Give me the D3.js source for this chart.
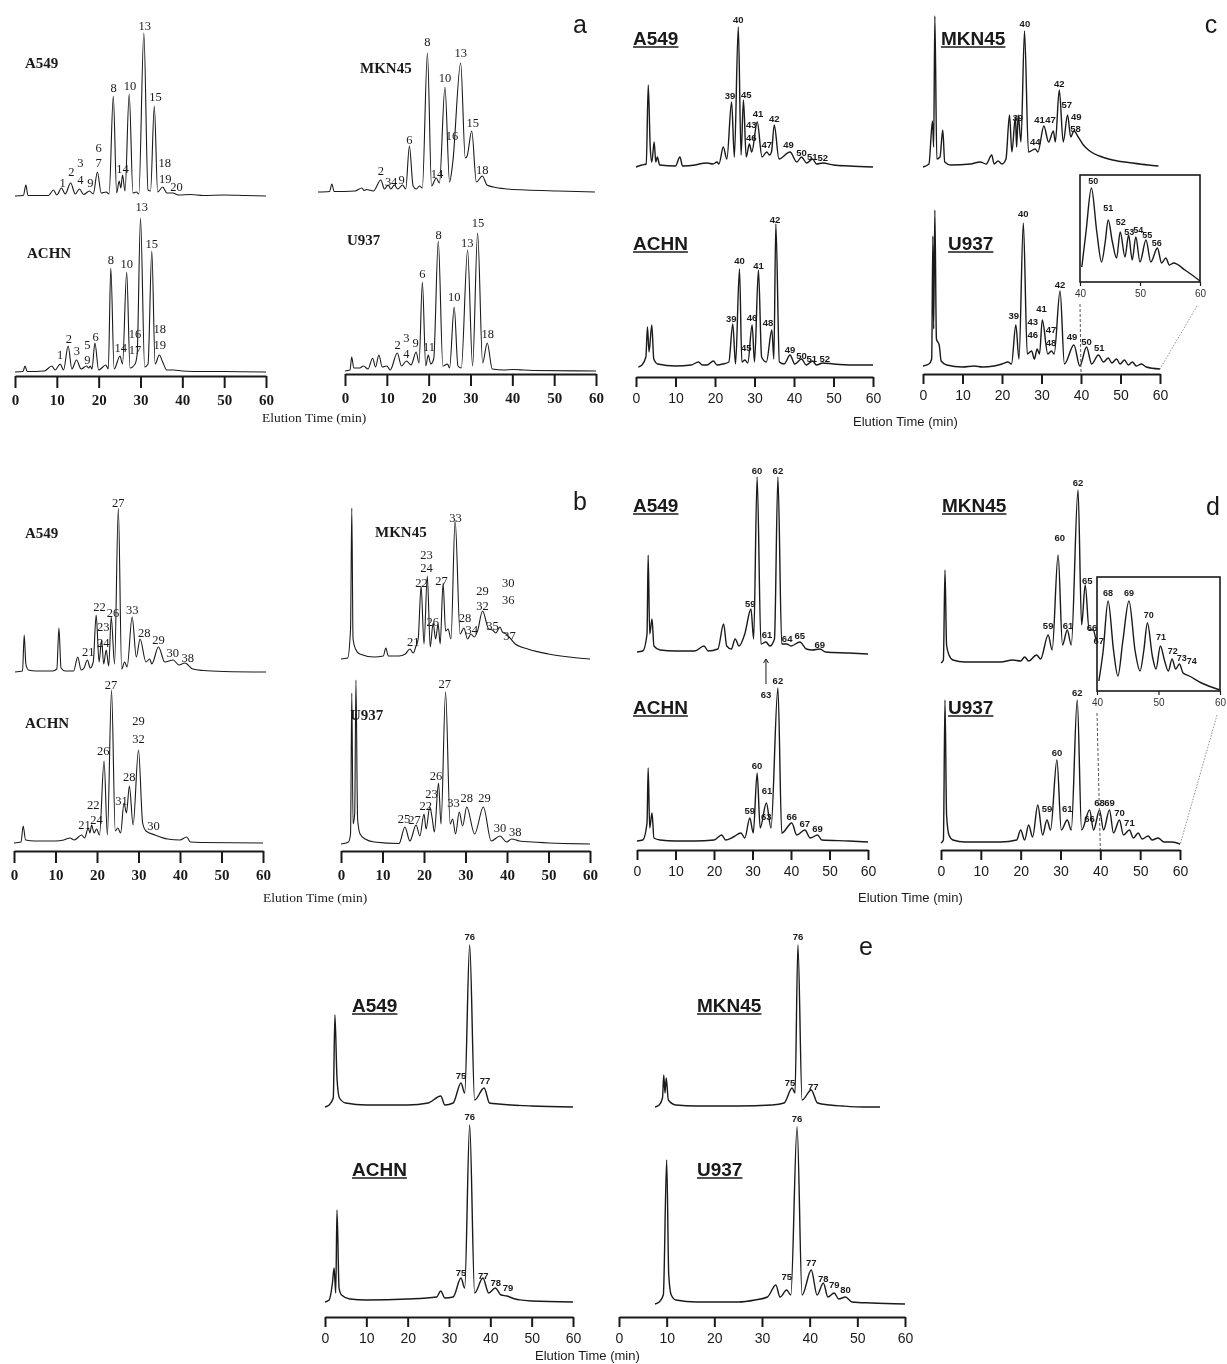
<!DOCTYPE html>
<html><head><meta charset="utf-8">
<script src="https://cdn.jsdelivr.net/npm/d3@7"></script>
<style>body{margin:0;background:#fff} svg{will-change:transform}</style>
</head><body>
<svg id="c" width="1227" height="1364"></svg>
<script>
const tickLabels = [0,10,20,30,40,50,60];
const insetTicks = [40,50,60];
const axisTitle = "Elution Time (min)";
const groupLetters = ["a","b","c","d","e"];

// ---- group a ----
const a_A549 = [[0,0],[2,0.5],[2.6,11],[3.1,0.5],[8,0.5],[9.2,6],[10,1],[11.1,8],[12,2],[13.3,13],[14.4,2],[15.4,7],[16.4,1.5],[17.8,5],[18.7,2],[19.7,24],[20.6,3],[21.8,4],[22.5,2],[23.5,100],[24.3,3],[24.9,15],[25.3,8],[25.7,21],[26.3,5],[27.3,102],[28.2,3],[29,4],[29.6,2],[30.8,163],[31.8,6],[32.4,5],[33.3,90],[34.1,4],[35.3,9],[36.3,3],[37.8,3],[39,1],[42,1.5],[45,0.5],[50,1],[55,0.5],[60,0]];
const a_A549_lab = [["1",11.4,13],["2",13.5,24],["3",15.6,33],["4",15.6,16],["9",18,13],["6",20,48],["7",20,33],["8",23.6,108],["10",27.5,110],["13",31,170],["14",25.7,27],["15",33.6,99],["18",35.8,33],["19",35.9,17],["20",38.6,9]];
const a_MKN45 = [[0,0],[2.5,0.5],[3,8],[3.5,0.5],[8,1],[9.5,4],[10,1.5],[10.5,2.5],[12,1],[13.6,12],[14.4,3],[15.2,7],[15.8,3],[16.5,7],[17.3,3],[18.3,7],[19,3],[19.8,46],[20.6,6],[21.3,3],[22,6],[22.6,4],[23.7,139],[24.6,6],[25.6,14],[26.3,9],[27.5,105],[28.5,10],[29.2,30],[30.9,129],[31.9,34],[32.3,36],[33.3,61],[34.3,10],[35.6,16],[36.6,7],[38,5],[41,3],[45,2],[52,1],[60,0]];
const a_MKN45_lab = [["2",13.6,21],["3",15.2,10],["4",16.5,10],["9",18.1,12],["6",19.8,52],["8",23.7,150],["14",25.8,18],["10",27.5,114],["16",29.0,56],["13",30.9,139],["15",33.5,69],["18",35.6,22]];
const a_ACHN = [[0,0],[1.9,0.5],[2.4,6],[2.9,0.5],[7,1],[8.8,6],[9.6,2],[10.8,8],[11.6,2],[12.7,26],[13.6,3],[14.7,12],[15.8,3],[17.1,6],[17.6,4],[18.0,6],[18.4,3],[19.1,29],[20,2],[21.7,7],[22.3,3],[22.9,104],[23.7,3],[25.1,16],[25.7,8],[26.7,100],[27.5,4],[28.7,8],[29.2,18],[30.0,154],[31.0,5],[31.8,8],[32.7,121],[33.5,8],[34.5,17],[35.3,10],[36.3,2],[38,2],[40,1],[45,0.5],[50,0.5],[60,0]];
const a_ACHN_lab = [["1",10.8,17],["2",12.9,33],["3",14.8,21],["5",17.3,27],["9",17.3,12],["6",19.3,35],["8",22.9,112],["10",26.7,108],["13",30.3,165],["14",25.3,24],["16",28.7,38],["17",28.7,22],["15",32.7,128],["18",34.6,43],["19",34.6,27]];
const a_U937 = [[0,0],[1.2,1],[1.6,14],[2.1,3],[3.5,3],[4.4,5],[5.5,2],[6.6,12.7],[7.3,4],[8.1,16],[8.9,4],[10,5],[10.8,1],[12.5,18],[13.5,5],[14.7,10],[15.8,6],[17,19],[17.7,8],[18.5,89],[19.3,5],[19.9,16],[20.5,7],[21.2,12],[22.3,130],[23.4,5],[24.5,7],[25,3],[26.1,64],[27,5],[27.8,3],[29.3,121],[30.5,5],[31.7,138],[32.9,8],[34,28],[35.2,2],[38,1],[40,1.5],[45,0.5],[60,0]];
const a_U937_lab = [["2",12.6,26],["3",14.7,33],["4",14.7,17],["9",16.9,28],["6",18.5,97],["11",20.1,24],["8",22.4,136],["10",26.1,74],["13",29.2,128],["15",31.8,148],["18",34.1,37]];

// ---- group b ----
const b_A549 = [[0,0],[1.8,1],[2.2,37],[2.6,8],[3.2,2],[5,1],[9,1],[10,3],[10.5,44],[11,4],[12,1],[14,1],[15,15],[15.8,2],[16.5,4],[17.3,12],[18,4],[18.7,10],[19.4,57],[20.1,10],[20.7,32],[21.2,8],[21.8,22],[22.4,6],[23,55],[23.8,8],[24.7,164],[25.5,3],[26.2,10],[26.8,5],[28,55],[29,15],[29.9,33],[31.3,10],[32.2,13],[32.7,8],[34.3,25],[35.8,10],[37.8,12],[39.2,7],[40.6,9],[42.5,3],[45,1.5],[50,0.5],[60,0]];
const b_A549_lab = [["21",17.5,20],["22",20.2,65],["23",21.1,45],["24",21.1,29],["26",23.4,59],["27",24.7,169],["33",28,62],["28",30.9,39],["29",34.3,32],["30",37.7,19],["38",41.3,14]];
const b_MKN45 = [[0,0],[1.6,1],[2.3,30],[2.6,151],[2.9,20],[3.5,10],[4.5,5],[8,2],[10.2,3],[10.8,11],[11.4,3],[14,3],[15.5,5],[16.6,10],[17.4,6],[18,12],[18.6,20],[19.3,73],[20,15],[20.8,83],[21.5,12],[22.2,36],[22.8,20],[23.4,35],[23.9,15],[24.6,76],[25.2,28],[25.8,30],[26.5,20],[27.5,139],[28.7,25],[29.6,31],[30.5,20],[31.3,25],[32.1,22],[32.9,28],[34.1,48],[35.6,30],[36.5,29],[37.3,26],[38.3,32],[38.9,27],[39.8,25],[42,15],[45,10],[50,5],[55,2],[60,0]];
const b_MKN45_lab = [["21",17.4,17],["22",19.4,76],["23",20.6,104],["24",20.6,91],["26",22.1,37],["27",24.2,78],["33",27.6,141],["28",29.9,41],["34",31.5,29],["29",34.1,68],["32",34.1,53],["35",36.5,33],["30",40.3,76],["36",40.3,59],["37",40.6,23]];
const b_ACHN = [[0,0],[1.7,1],[2.2,17],[2.8,3],[5,2],[10,2],[12,3],[13.5,5],[14.5,3],[16.3,8],[17,5],[17.9,15],[18.3,10],[18.7,18],[19.3,10],[19.9,14],[20.6,8],[21.7,82],[22.5,8],[23.5,153],[24.4,12],[25,15],[25.7,10],[26.5,40],[27.1,30],[27.8,57],[28.7,18],[30,93],[31,20],[31.8,12],[34,8],[37,4],[40,3],[41.6,6],[42.5,1],[45,0.5],[60,0]];
const b_ACHN_lab = [["21",17,18],["22",19.1,38],["24",19.9,23],["26",21.5,92],["27",23.4,158],["31",25.9,42],["28",27.8,66],["29",30,122],["32",30,104],["30",33.6,17]];
const b_U937 = [[0,0],[1.8,2],[2.3,10],[2.6,151],[2.9,20],[3.3,30],[3.6,164],[4,25],[4.6,10],[5.8,5],[8,2],[14,0.5],[15.4,17],[16.6,3],[18.1,19],[19,8],[20,30],[20.5,15],[21.4,37],[22,25],[22.5,12],[23.5,61],[24.1,20],[25.2,152],[26.3,20],[26.9,25],[27.6,10],[28.5,32],[29.3,18],[30.3,37],[32.2,10],[34.3,37],[36.2,3],[38.3,8],[39.9,2],[41.1,5],[43,3],[46,2],[60,0]];
const b_U937_lab = [["25",15.2,25],["27",17.7,24],["22",20.4,38],["23",21.8,50],["26",22.9,68],["27",25,160],["33",27.1,41],["28",30.3,46],["29",34.6,46],["30",38.3,16],["38",42,12]];

// ---- group c ----
const c_A549 = [[0,0],[1.5,2],[2.6,3],[3.1,82],[3.6,20],[4.0,5],[4.6,25],[5.0,5],[5.4,10],[6,2],[10,1],[11.1,10],[11.8,1],[15,2],[16,3],[18,4],[19.5,3],[20.5,5],[21,3],[22.1,20],[23,8],[24.2,65],[24.9,10],[25.9,140],[26.6,12],[27.2,67],[27.9,10],[28.7,23],[29.3,15],[30.7,45],[31.9,10],[33.1,15],[33.8,12],[34.3,15],[35,42],[36.2,8],[39,15],[40.7,5],[41.9,10],[43.2,4],[44.7,8],[45.7,3],[47.3,4],[50,2],[54,1],[60,0]];
const c_A549_lab = [["39",23.8,72],["40",25.9,148],["45",27.9,73],["43",29.2,43],["46",29.2,30],["41",30.9,54],["47",33.1,23],["42",35,49],["49",38.6,23],["50",41.9,15],["51",44.6,11],["52",47.3,10]];
const c_MKN45 = [[0,0],[1.5,3],[2.4,46],[2.7,20],[3.0,151],[3.5,8],[4.3,10],[5,37],[5.5,5],[7,2],[12,3],[14.5,5],[16,3],[17.4,12],[18,3],[19,6],[20,3],[21,8],[21.9,52],[22.5,15],[23.4,50],[23.7,20],[24.1,52],[24.8,25],[25.7,136],[26.7,15],[28.4,18],[29.1,15],[30.6,41],[31.8,25],[33,36],[33.5,25],[34.5,77],[35.5,25],[36.6,52],[37.4,30],[38.2,36],[39.3,30],[40.6,22],[42.2,16],[44.7,11],[48,7],[53,4],[57,2],[59.6,1]];
const c_MKN45_lab = [["39",24,50],["40",25.8,144],["44",28.4,26],["41",29.5,48],["47",32.3,48],["42",34.5,84],["57",36.4,63],["49",38.8,51],["58",38.6,39]];
const c_ACHN = [[0.6,0],[1.5,2],[2.5,10],[2.9,40],[3.3,15],[4.0,42],[4.5,8],[5.5,3],[10,1],[14,2],[15.8,5],[16.8,2],[18,2],[19.6,6],[20.5,2],[22,3],[23.5,5],[24.5,43],[25.2,3],[26.2,98],[26.8,5],[27.6,7],[28.3,4],[29.4,42],[30,5],[31,97],[31.8,10],[33,5],[34.4,37],[34.9,8],[35.4,143],[36.3,5],[37.5,3],[39,12],[40.2,3],[41.9,8],[43.1,2],[44.7,6],[45.7,2],[47.3,4],[50,3],[55,2],[60,2]];
const c_ACHN_lab = [["39",24.1,49],["40",26.2,107],["45",27.9,20],["46",29.4,50],["41",31,102],["48",33.4,45],["42",35.2,148],["49",39,18],["50",41.9,12],["51",44.5,9],["52",47.8,9]];
const c_U937 = [[0,3],[1.5,5],[2.2,10],[2.5,133],[2.7,40],[3.0,159],[3.4,30],[4.1,24],[4.6,8],[6,4],[10,2],[13,3],[15,2],[18,3],[20,5],[21.5,7],[22.4,5],[23.5,44],[24.3,10],[25.4,146],[26.4,15],[27.5,18],[28.2,10],[28.9,20],[29.5,15],[30.2,49],[31.6,15],[32.5,18],[33.2,15],[34.7,78],[35.8,5],[38.2,24],[39.7,3],[41.4,22],[42.7,5],[44.4,14],[45.7,7],[46.9,11],[47.8,6],[49,10],[49.9,5],[51,9],[52,4],[53,7],[54,3],[55.3,5],[56.5,2],[60,0]];
const c_U937_lab = [["39",23,54],["40",25.4,156],["43",27.8,48],["46",27.8,35],["41",30,61],["47",32.4,40],["48",32.4,27],["42",34.7,85],["49",37.7,33],["50",41.4,28],["51",44.6,22]];
const c_inset = [[40.3,15],[41.0,50],[41.9,94],[42.8,50],[43.6,20],[44.2,40],[44.7,62],[45.4,40],[46.1,24],[46.7,50],[47.5,25],[48.1,47],[48.7,22],[49.3,45],[50,20],[51,42],[51.8,20],[52.9,34],[53.6,19],[54.3,24],[54.9,17],[55.6,19],[57.5,12],[60,1]];
const c_inset_lab = [["50",42.2,101],["51",44.7,74],["52",46.8,60],["53",48.2,50],["54",49.7,52],["55",51.2,47],["56",52.8,39]];

// ---- group d ----
const d_A549 = [[0,2],[1.5,3],[2.6,20],[2.9,99],[3.3,20],[3.9,35],[4.4,8],[6,4],[10,3],[15,3],[17.4,8],[18.5,3],[21,5],[22.5,30],[23.3,8],[24.5,5],[25.5,15],[26.5,8],[28,20],[29.6,45],[30.3,15],[31.2,177],[32.2,10],[33.5,12],[34.5,8],[35.7,15],[36.6,177],[37.6,10],[38.9,10],[40,8],[42.3,12],[44,5],[45.5,4],[47.5,5],[49,2],[55,1],[60,0]];
const d_A549_lab = [["59",29.4,51],["60",31.2,184],["61",33.8,20],["62",36.6,184],["64",39,16],["65",42.3,19],["69",47.5,10]];
const d_A549_arrow = [["63",33.5,-40,-30,-5]];
const d_MKN45 = [[0,2],[0.6,5],[1,95],[1.4,20],[2,10],[3,5],[6,3],[15,3],[18,5],[20,4],[21,8],[22,4],[24,10],[25,6],[26.9,30],[27.9,15],[29.4,110],[30.5,20],[31.7,35],[32.7,20],[34.4,175],[35.3,40],[36.2,80],[37.2,35],[38.2,35],[39,25],[40,22],[42,15],[45,10],[50,5],[55,3],[60,1]];
const d_MKN45_lab = [["59",26.9,40],["60",29.8,128],["61",31.9,40],["62",34.4,183],["65",36.7,85],["66",37.9,38],["67",39.6,25]];
const d_ACHN = [[0,2],[1.5,3],[2.6,20],[2.9,75],[3.3,15],[3.9,30],[4.4,5],[6,3],[10,2],[15,2],[20,3],[22,8],[23,3],[25,6],[27,10],[28,5],[29.3,25],[30.2,10],[31.2,70],[32,15],[33.6,40],[34.8,15],[36.6,155],[37.6,10],[40.2,20],[41.5,8],[43.6,13],[45,5],[46.9,8],[48,3],[55,2],[60,1]];
const d_ACHN_lab = [["59",29.3,33],["60",31.2,78],["61",33.8,53],["62",36.6,163],["63",33.6,27],["66",40.2,27],["67",43.6,20],["69",46.9,15]];
const d_U937 = [[0,2],[0.6,5],[1,145],[1.4,30],[2,10],[3,5],[6,3],[15,3],[19,5],[20,15],[21,5],[22,20],[23,8],[24.3,40],[25.5,10],[26.6,25],[27.5,15],[29.1,85],[30.2,15],[31.7,25],[32.7,15],[34.2,145],[35.3,15],[37.3,35],[38.3,15],[39.8,35],[40.8,15],[42.3,35],[43.3,12],[44.8,25],[45.8,10],[47.3,15],[48.3,7],[49.5,12],[50.5,6],[52,9],[53,5],[54.5,7],[56,3],[58,3],[60,1]];
const d_U937_lab = [["59",26.6,37],["60",29.1,93],["61",31.7,37],["62",34.2,153],["66",37.3,27],["68",39.8,43],["69",42.3,43],["70",44.8,33],["71",47.3,23]];
const d_inset = [[40.3,10],[41,40],[41.8,90],[42.7,40],[43.4,15],[44.2,50],[45.2,90],[46.2,40],[47,20],[47.6,40],[48.2,68],[49,35],[49.6,22],[50.3,45],[51,30],[51.6,20],[52.2,32],[52.8,22],[53.4,27],[54,18],[55,15],[57,8],[60,1]];
const d_inset_lab = [["68",41.8,98],["69",45.2,98],["70",48.4,76],["71",50.4,54],["72",52.3,40],["73",53.8,33],["74",55.4,30]];

// ---- group e ----
const e_A549 = [[0,1],[1,3],[2,10],[2.4,93],[2.9,30],[3.5,10],[5,5],[10,3],[20,3],[25,5],[28,12],[29,3],[31,5],[32.9,25],[33.8,15],[35,163],[36.2,8],[38.5,20],[39.8,5],[42,4],[45,3],[50,2],[60,1]];
const e_A549_lab = [["75",32.9,33],["76",35,172],["77",38.7,28]];
const e_MKN45 = [[0,1],[1,3],[1.8,10],[2.1,33],[2.4,15],[2.7,30],[3.2,8],[5,3],[10,2],[20,2],[28,3],[31,5],[32.9,20],[33.6,15],[34.3,163],[35.3,8],[37.5,18],[39,5],[42,3],[45,2],[50,1],[54,1]];
const e_MKN45_lab = [["75",32.4,26],["76",34.3,172],["77",38,22]];
const e_ACHN = [[0,1],[1,3],[1.8,20],[2.2,35],[2.6,10],[2.9,93],[3.4,15],[4,8],[6,4],[10,3],[20,4],[27,6],[28,12],[29,5],[31,6],[32.9,25],[33.8,15],[35,178],[36.2,10],[38.2,25],[39.6,10],[41.2,15],[42.6,8],[44,7],[46,4],[50,2],[60,1]];
const e_ACHN_lab = [["75",32.9,31],["76",35,187],["77",38.3,28],["78",41.3,21],["79",44.3,16]];
const e_U937 = [[0,1],[1,3],[2,10],[2.8,145],[3.3,30],[3.9,10],[5,5],[10,3],[20,3],[24,5],[27,8],[29,20],[30,8],[31.6,15],[32.6,10],[34.1,178],[35.3,10],[37.5,35],[38.9,10],[40.4,22],[41.5,8],[43,12],[44.1,6],[45.7,8],[47.3,3],[52,2],[60,1]];
const e_U937_lab = [["75",31.6,29],["76",34.1,187],["77",37.5,43],["78",40.4,27],["79",43,21],["80",45.7,16]];

const svg = d3.select("#c");
const root = svg.append("g").attr("opacity",0.999);
const gTrace = root.append("g");
const gInset = root.append("g");
const gText = root.append("g");
const INK = "#1a1a1a";

const panels = [
  {d:a_A549, l:a_A549_lab, name:"A549", st:"serif", xr:[15,266], base:196, nm:[25,63]},
  {d:a_MKN45, l:a_MKN45_lab, name:"MKN45", st:"serif", xr:[318,595], base:192, nm:[360,68]},
  {d:a_ACHN, l:a_ACHN_lab, name:"ACHN", st:"serif", xr:[15,266], base:372, nm:[27,253], axis:376},
  {d:a_U937, l:a_U937_lab, name:"U937", st:"serif", xr:[345,596], base:371, nm:[347,240], axis:374},
  {d:b_A549, l:b_A549_lab, name:"A549", st:"serif", xr:[15,266], base:672, nm:[25,533]},
  {d:b_MKN45, l:b_MKN45_lab, name:"MKN45", st:"serif", xr:[341,590], base:659, nm:[375,532]},
  {d:b_ACHN, l:b_ACHN_lab, name:"ACHN", st:"serif", xr:[14,263], base:843, nm:[25,723], axis:851},
  {d:b_U937, l:b_U937_lab, name:"U937", st:"serif", xr:[341,590], base:844, nm:[350,715], axis:851},
  {d:c_A549, l:c_A549_lab, name:"A549", st:"sans", xr:[636,873], base:167, nm:[633,38]},
  {d:c_MKN45, l:c_MKN45_lab, name:"MKN45", st:"sans", xr:[923,1160], base:167, nm:[941,38]},
  {d:c_ACHN, l:c_ACHN_lab, name:"ACHN", st:"sans", xr:[636,873], base:367, nm:[633,243], axis:377},
  {d:c_U937, l:c_U937_lab, name:"U937", st:"sans", xr:[923,1160], base:369, nm:[948,243], axis:374},
  {d:d_A549, l:d_A549_lab, name:"A549", st:"sans", xr:[637,868], base:654, nm:[633,505], arrows:d_A549_arrow},
  {d:d_MKN45, l:d_MKN45_lab, name:"MKN45", st:"sans", xr:[941,1180], base:665, nm:[942,505]},
  {d:d_ACHN, l:d_ACHN_lab, name:"ACHN", st:"sans", xr:[637,868], base:843, nm:[633,707], axis:850},
  {d:d_U937, l:d_U937_lab, name:"U937", st:"sans", xr:[941,1180], base:845, nm:[948,707], axis:850},
  {d:e_A549, l:e_A549_lab, name:"A549", st:"sans", xr:[325,573], base:1108, nm:[352,1005]},
  {d:e_MKN45, l:e_MKN45_lab, name:"MKN45", st:"sans", xr:[655,905], base:1108, nm:[697,1005]},
  {d:e_ACHN, l:e_ACHN_lab, name:"ACHN", st:"sans", xr:[325,573], base:1303, nm:[352,1169], axis:1317, axr:[325,573]},
  {d:e_U937, l:e_U937_lab, name:"U937", st:"sans", xr:[655,905], base:1305, nm:[697,1169], axis:1317, axr:[619,905]}
];

const FONT = {serif:"'Liberation Serif','Times New Roman',serif", sans:"'Liberation Sans',Arial,sans-serif"};

function scales(xr, base, domain){
  return {x:d3.scaleLinear().domain(domain||[0,60]).range(xr),
          y:d3.scaleLinear().domain([0,100]).range([base, base-100])};
}
function drawLine(layer, data, s, st){
  const line = d3.line().x(d=>s.x(d[0])).y(d=>s.y(d[1])).curve(d3.curveMonotoneX);
  layer.append("path").attr("d", line(data)).attr("fill","none")
    .attr("stroke", INK).attr("stroke-width", st==="serif"?1.1:1.4).attr("stroke-linejoin","round");
}
function drawLabels(labels, s, st, small){
  gText.append("g").selectAll("text").data(labels).join("text")
    .attr("x", d=>s.x(d[1])).attr("y", d=>s.y(d[2]))
    .attr("text-anchor","middle").attr("dominant-baseline","central")
    .attr("font-family", FONT[st])
    .attr("font-size", st==="serif"?12.5:(small?9:9.5))
    .attr("font-weight", st==="serif"?"normal":"bold")
    .attr("fill", INK).text(d=>d[0]);
}

function drawAxis(xr, ay, st){
  const x = d3.scaleLinear().domain([0,60]).range(xr);
  const g = gText.append("g").attr("transform",`translate(0,${ay})`)
    .call(d3.axisBottom(x).tickValues(tickLabels).tickSize(st==="serif"?12:10).tickSizeOuter(0).tickPadding(6));
  g.select(".domain").attr("stroke", INK).attr("stroke-width", 2);
  g.selectAll(".tick line").attr("stroke", INK).attr("stroke-width", 2);
  g.selectAll(".tick text").attr("font-family", FONT[st]).attr("font-size", st==="serif"?15:14)
    .attr("fill", INK).attr("font-weight", st==="serif"?"bold":"normal");
}

panels.forEach(p=>{
  const s = scales(p.xr, p.base);
  drawLine(gTrace, p.d, s, p.st);
  drawLabels(p.l, s, p.st, false);
  if(p.arrows){
    p.arrows.forEach(a=>{
      gText.append("text").attr("x",s.x(a[1])).attr("y",s.y(a[2])).attr("text-anchor","middle")
        .attr("dominant-baseline","central").attr("font-family",FONT.sans).attr("font-weight","bold")
        .attr("font-size",9.5).attr("fill",INK).text(a[0]);
      gText.append("line").attr("x1",s.x(a[1])).attr("x2",s.x(a[1])).attr("y1",s.y(a[3])).attr("y2",s.y(a[4]))
        .attr("stroke",INK).attr("stroke-width",1);
      gText.append("path").attr("d",`M${s.x(a[1])-2.5},${s.y(a[4])+4}L${s.x(a[1])},${s.y(a[4])}L${s.x(a[1])+2.5},${s.y(a[4])+4}`)
        .attr("fill","none").attr("stroke",INK).attr("stroke-width",1);
    });
  }
  const t = gText.append("text").attr("x", p.nm[0]).attr("y", p.nm[1])
    .attr("dominant-baseline","central").attr("font-family", FONT[p.st])
    .attr("font-weight","bold").attr("font-size", p.st==="serif"?15:19)
    .attr("fill", INK).text(p.name);
  if(p.st==="sans"){
    const w = t.node().getComputedTextLength();
    gText.append("line").attr("x1",p.nm[0]).attr("x2",p.nm[0]+w)
      .attr("y1",p.nm[1]+9).attr("y2",p.nm[1]+9).attr("stroke",INK).attr("stroke-width",1.6);
  }
  if(p.axis) drawAxis(p.axr||p.xr, p.axis, p.st);
});

const titles = [[262,417,"serif"],[263,897,"serif"],[853,421,"sans"],[858,897,"sans"],[535,1355,"sans"]];
titles.forEach(t=>{
  gText.append("text").attr("x",t[0]).attr("y",t[1]).attr("dominant-baseline","central")
    .attr("font-family",FONT[t[2]]).attr("font-size",t[2]==="serif"?13.5:13).attr("fill",INK).text(axisTitle);
});

const letterPos = [[580,33],[580,510],[1211,33],[1213,515],[866,955]];
groupLetters.forEach((L,i)=>{
  gText.append("text").attr("x",letterPos[i][0]).attr("y",letterPos[i][1]).attr("text-anchor","middle")
    .attr("font-family",FONT.sans).attr("font-size",25).attr("fill",INK).text(L);
});

function drawInset(data, labels, box, mainX, mainAxisY, mainEnd){
  gInset.append("rect").attr("x",box[0]).attr("y",box[1]).attr("width",box[2]-box[0]).attr("height",box[3]-box[1])
    .attr("fill","#fff").attr("stroke",INK).attr("stroke-width",1.6);
  const s = scales([box[0],box[2]], box[3], [40,60]);
  drawLine(gInset, data, s, "sans");
  drawLabels(labels, s, "sans", true);
  const g = gInset.append("g").attr("transform",`translate(0,${box[3]})`)
    .call(d3.axisBottom(s.x).tickValues(insetTicks).tickSize(4).tickSizeOuter(0).tickPadding(4));
  g.select(".domain").remove();
  g.selectAll(".tick line").attr("stroke",INK).attr("stroke-width",1.2);
  g.selectAll(".tick text").attr("font-family",FONT.sans).attr("font-size",10).attr("fill","#333");
  gInset.append("line").attr("x1",s.x(40)).attr("y1",box[3]+22).attr("x2",mainX(40)).attr("y2",mainAxisY)
    .attr("stroke","#555").attr("stroke-width",1).attr("stroke-dasharray","3,2");
  gInset.append("line").attr("x1",s.x(60)-3).attr("y1",box[3]+24).attr("x2",mainEnd[0]).attr("y2",mainEnd[1])
    .attr("stroke","#777").attr("stroke-width",0.8).attr("stroke-dasharray","1.5,1.5");
}
const xcU = d3.scaleLinear().domain([0,60]).range([923,1160]);
drawInset(c_inset, c_inset_lab, [1080,175,1200,282], xcU, 374, [1160,369]);
const xdU = d3.scaleLinear().domain([0,60]).range([941,1180]);
drawInset(d_inset, d_inset_lab, [1097,577,1220,691], xdU, 850, [1180,845]);
</script>
</body></html>
